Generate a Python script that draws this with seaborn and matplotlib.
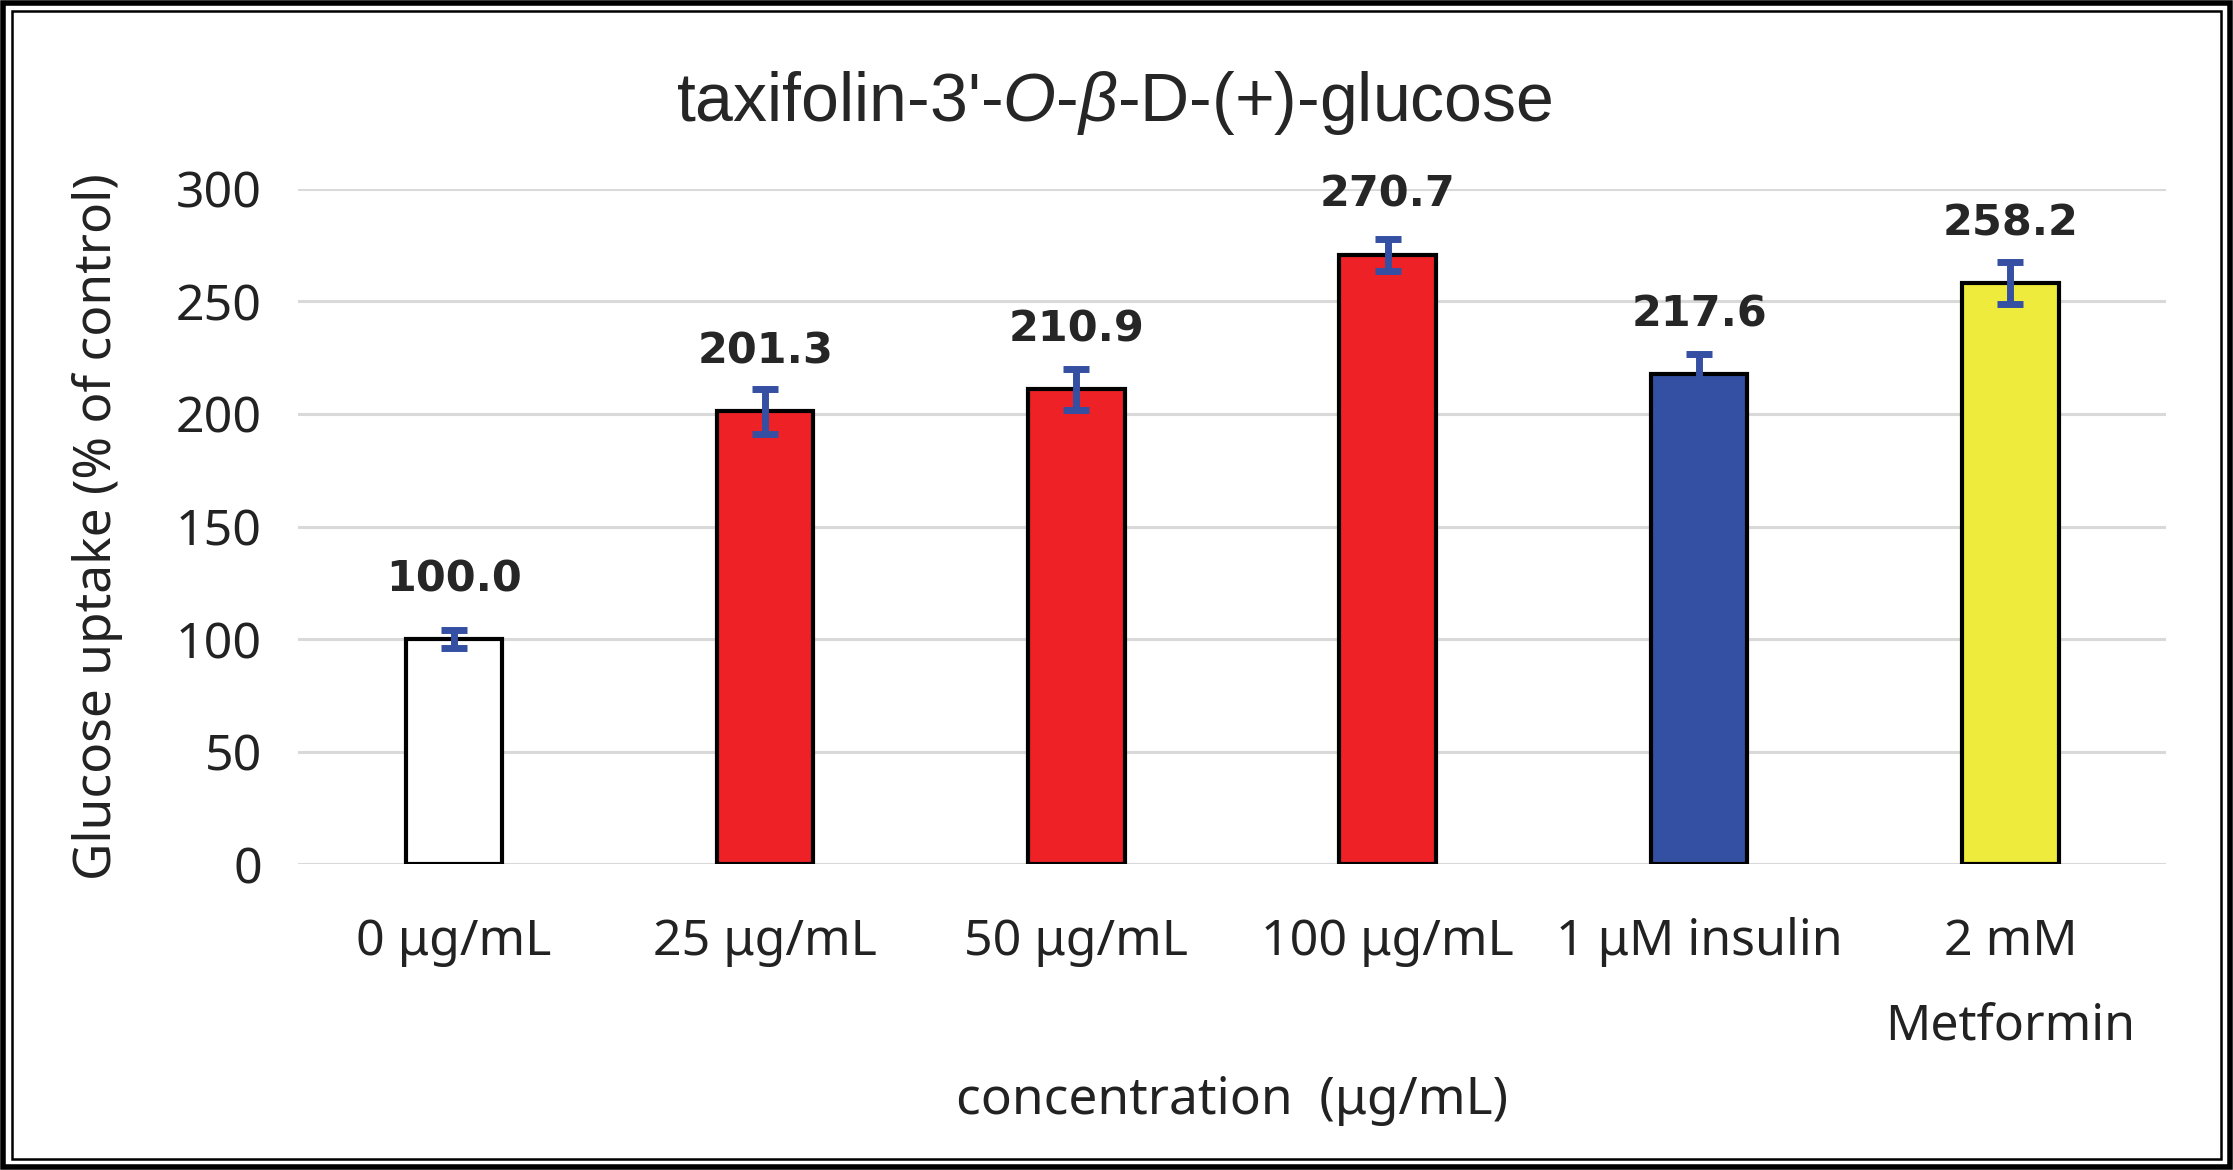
import pandas as pd
import matplotlib
matplotlib.use("Agg")
import matplotlib.pyplot as plt
import seaborn as sns
from matplotlib.patches import Rectangle

sns.set_style("white")
plt.rcParams['font.family'] = ['Noto Sans', 'DejaVu Sans']
plt.rcParams['mathtext.fontset'] = 'custom'
plt.rcParams['mathtext.it'] = 'Liberation Sans:italic'
plt.rcParams['mathtext.rm'] = 'Liberation Sans'

categories = ['0 μg/mL', '25 μg/mL', '50 μg/mL', '100 μg/mL', '1 μM insulin', '2 mM\nMetformin']
uptake = [100.0, 201.3, 210.9, 270.7, 217.6, 258.2]
errors = [4, 10, 9, 7, 9, 9.5]
bar_colors = ['#FFFFFF', '#EE2226', '#EE2226', '#EE2226', '#3450A2', '#EEEB3C']
err_color = '#3550A3'

df = pd.DataFrame({'group': categories, 'uptake': uptake, 'err': errors})

fig = plt.figure(figsize=(22.33, 11.70), dpi=100)
ax = fig.add_axes([0.1335, 0.2615, 0.8365, 0.577])

sns.barplot(data=df, x='group', y='uptake', hue='group', palette=bar_colors,
            saturation=1, legend=False, width=0.31, edgecolor='black',
            linewidth=3, ax=ax, zorder=3)
ax.errorbar(range(len(df)), df['uptake'], yerr=df['err'], fmt='none',
            ecolor=err_color, elinewidth=5, capsize=9.5, capthick=5, zorder=4)

for i, v in enumerate(df['uptake']):
    ax.annotate(f"{v:.1f}", (i, v), xytext=(0, 28), textcoords='offset points',
                ha='center', va='bottom', fontsize=31, fontweight='bold',
                family='DejaVu Sans', annotation_clip=False)

ax.set_xlim(-0.5, len(df) - 0.5)
ax.set_ylim(0, 300)
ax.set_yticks(range(0, 301, 50))
ax.yaxis.grid(True, color='#D9D9D9', linewidth=2.2, zorder=0)
ax.set_axisbelow(True)
for s in ax.spines.values():
    s.set_visible(False)
ax.tick_params(axis='y', length=0, pad=26, labelsize=36, labelcolor='#222222')
ax.tick_params(axis='x', length=0, pad=38, labelsize=36, labelcolor='#222222')
for lab in ax.get_xticklabels():
    lab.set_linespacing(1.9)

ax.set_xlabel('concentration  (μg/mL)', fontsize=37, color='#222222', labelpad=17)
ax.set_ylabel('Glucose uptake (% of control)', fontsize=37, color='#222222', labelpad=38)
fig.text(0.499, 0.912, "taxifolin-3'-$\\mathit{O}$-$\\mathit{β}$-D-(+)-glucose",
         ha='center', va='center', fontsize=49, family='Liberation Sans')

# double frame around the figure
fig.patches.append(Rectangle((0.0015, 0.0025), 0.997, 0.995, transform=fig.transFigure,
                             fill=False, edgecolor='black', linewidth=4))
fig.patches.append(Rectangle((0.0055, 0.0095), 0.989, 0.981, transform=fig.transFigure,
                             fill=False, edgecolor='black', linewidth=1.8))

fig.savefig('out.png', dpi=100)
